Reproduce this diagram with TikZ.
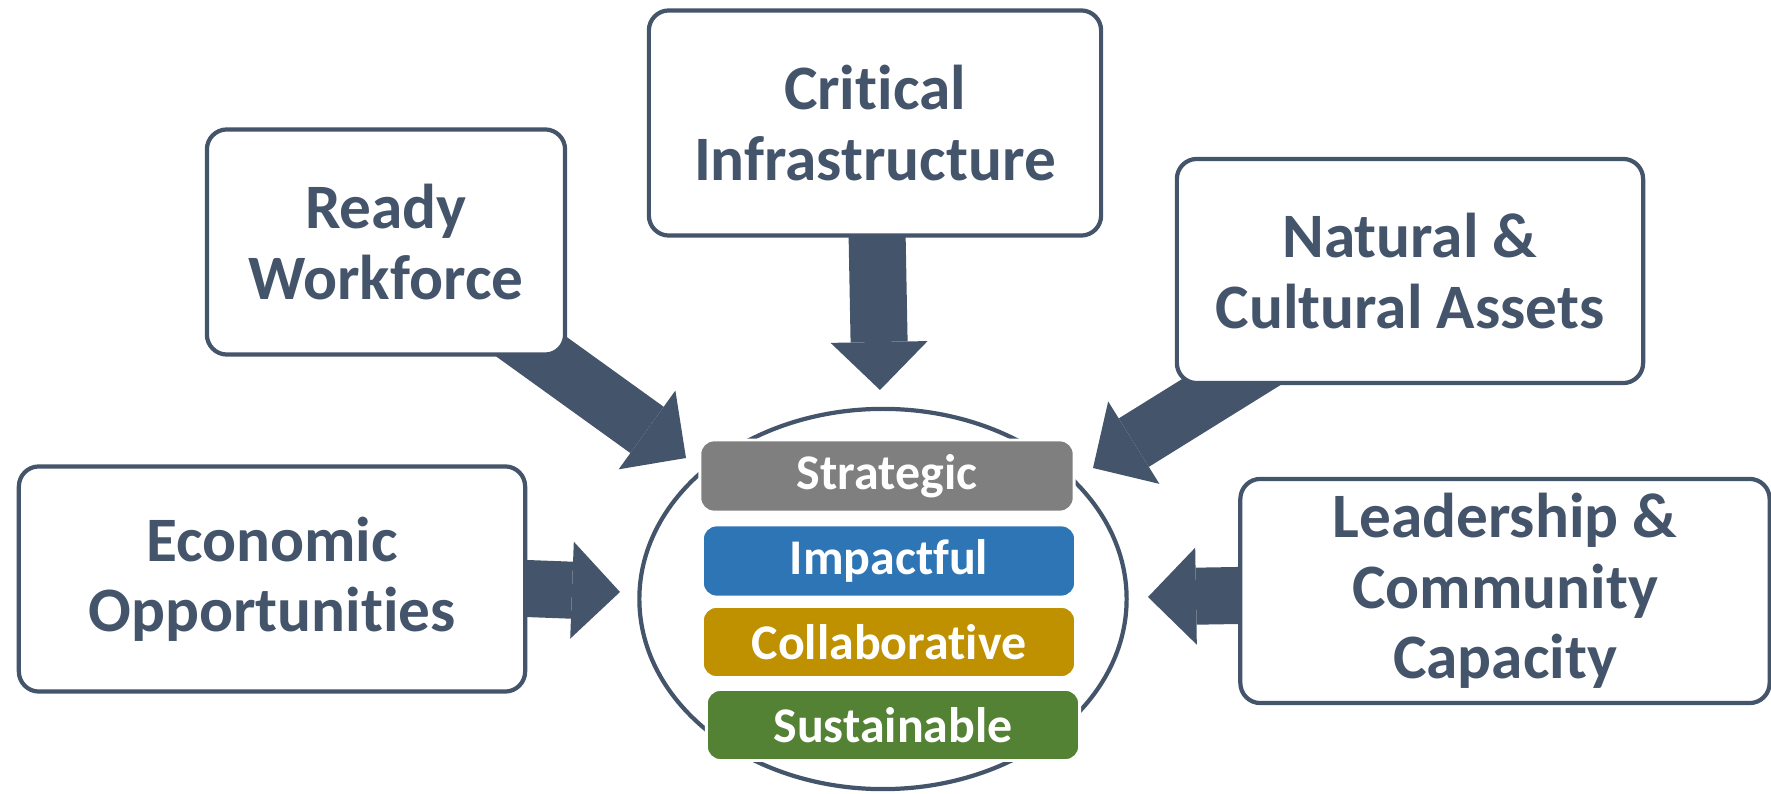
\documentclass[tikz,border=0pt]{standalone}
\usepackage{fontspec}
\setmainfont{Carlito}[Ligatures={NoCommon,NoContextual},Contextuals=NoAlternate]
\usetikzlibrary{arrows.meta,shapes.geometric}
\pgfdeclarelayer{edgelayer}
\pgfsetlayers{edgelayer,main}
\definecolor{slate}{HTML}{44546A}
\definecolor{sgray}{HTML}{7F7F7F}
\definecolor{sblue}{HTML}{2E75B6}
\definecolor{sgold}{HTML}{BF9000}
\definecolor{sgreen}{HTML}{548235}
\tikzstyle{pillar}=[draw=slate,line width=1.2pt,fill=white,rounded corners=0.2cm,align=center,text=slate,font=\fontsize{18}{20}\selectfont\bfseries,inner sep=0pt]
\tikzstyle{value}=[draw=white,line width=0.8pt,rounded corners=0.14cm,text=white,font=\fontsize{14.2}{16}\selectfont\bfseries,minimum width=3.73cm,minimum height=0.71cm,inner sep=0pt]
\tikzstyle{fat}=[slate,line width=0.57cm,-{Triangle[width=0.97cm,length=0.48cm,line width=0pt]}]

\begin{document}
\begin{tikzpicture}[x=0.01cm,y=-0.01cm]
\useasboundingbox (0,0) rectangle (1771,794);
\node[pillar,minimum width=4.52cm,minimum height=2.25cm] (CI) at (875,123) {Critical\\Infrastructure};
\node[pillar,minimum width=3.58cm,minimum height=2.25cm] (RW) at (386,242) {Ready\\Workforce};
\node[pillar,minimum width=4.66cm,minimum height=2.24cm] (NCA) at (1410,271) {Natural \&\\Cultural Assets};
\node[pillar,minimum width=5.06cm,minimum height=2.25cm] (EO) at (272,579) {Economic\\Opportunities};
\node[pillar,minimum width=5.29cm,minimum height=2.24cm] (LCC) at (1505,591) {Leadership \&\\Community\\Capacity};
\node[ellipse,draw=slate,line width=1.2pt,minimum width=4.87cm,minimum height=3.8cm,inner sep=0pt] (O) at (883,599) {};
\node[value,fill=sgray,minimum width=3.74cm,minimum height=0.72cm] (S) at (887,476) {Strategic};
\node[value,fill=sblue,minimum height=0.72cm] (I) at (889,561) {Impactful};
\node[value,fill=sgold] (Co) at (889,642) {Collaborative};
\node[value,fill=sgreen] (Su) at (893,725) {Sustainable};
\coordinate (t1) at (686,458);
\coordinate (t2) at (880,390);
\coordinate (t3) at (1093,468);
\coordinate (t4) at (620,592);
\coordinate (t5) at (1148,597);
\begin{pgfonlayer}{edgelayer}
\path[fat]
(RW.center) edge (t1)
(CI.center) edge (t2)
(NCA.center) edge (t3)
(EO.center) edge (t4)
(LCC.center) edge (t5);
\end{pgfonlayer}
\end{tikzpicture}
\end{document}
